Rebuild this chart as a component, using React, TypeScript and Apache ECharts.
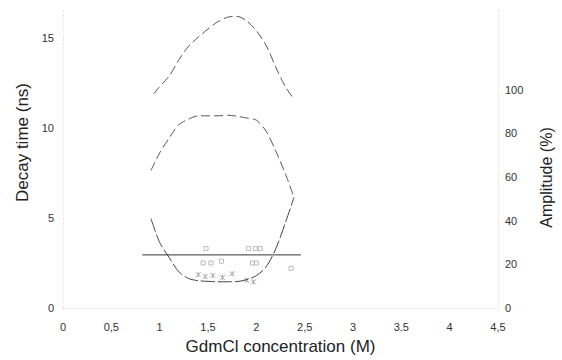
import React, { useEffect, useRef } from "react";
import * as echarts from "echarts";

// GdmCl concentration (M) sampling for each curve
const concLongTau = [0.94, 1.0, 1.1, 1.2, 1.3, 1.4, 1.5, 1.6, 1.7, 1.8, 1.9, 2.0, 2.1, 2.2, 2.3, 2.39];
const longTau = [11.9, 12.3, 12.9, 13.8, 14.55, 15.05, 15.5, 15.9, 16.15, 16.2, 15.95, 15.4, 14.6, 13.4, 12.3, 11.6];

const concAmpHigh = [0.91, 1.0, 1.1, 1.2, 1.3, 1.4, 1.5, 1.6, 1.7, 1.8, 1.9, 2.0, 2.1, 2.2, 2.3, 2.39];
const ampHigh = [63, 71, 78, 84, 86.5, 88, 88, 88, 88.3, 87.8, 87, 86, 81, 72, 61.5, 50.7];

const concAmpLow = [0.91, 1.0, 1.1, 1.2, 1.3, 1.4, 1.5, 1.6, 1.7, 1.8, 1.9, 2.0, 2.1, 2.2, 2.3, 2.39];
const ampLow = [41, 30, 23, 16.5, 13.5, 12.5, 12.2, 12, 12, 12.1, 13, 14.8, 18.8, 27, 39, 50.7];

const concShortTau = [0.82, 0.9, 1.2, 1.4, 1.6, 1.8, 2.0, 2.2, 2.46];
const shortTau = [2.95, 2.95, 2.95, 2.95, 2.95, 2.95, 2.95, 2.95, 2.95];

const concSquares = [1.48, 1.92, 1.99, 2.04, 1.45, 1.53, 1.64, 1.96, 2.0, 2.36];
const tauSquares = [3.3, 3.3, 3.3, 3.3, 2.5, 2.5, 2.6, 2.5, 2.5, 2.2];

const concCrosses = [1.4, 1.47, 1.55, 1.65, 1.75, 1.9, 1.97];
const tauCrosses = [1.85, 1.75, 1.8, 1.7, 1.9, 1.55, 1.45];

const xTickLabels = ["0", "0,5", "1", "1,5", "2", "2,5", "3", "3.5", "4", "4,5"];
const leftTicks = [0, 5, 10, 15];
const rightTicks = [0, 20, 40, 60, 80, 100];

const zip = (xs: number[], ys: number[]) => xs.map((x, i) => [x, ys[i]]);

const FONT = "Liberation Sans, Arial, Helvetica, sans-serif";

export default function App() {
  const ref = useRef<HTMLDivElement>(null);
  useEffect(() => {
    document.body.style.margin = "0";
    if (!ref.current) return;
    const chart = echarts.init(ref.current, undefined, { renderer: "svg" });
    const faintAxis = { show: true, lineStyle: { color: "#dddddd", type: [1, 3] as any, width: 1 } };
    chart.setOption({
      animation: false,
      backgroundColor: "#ffffff",
      grid: { left: 63, right: 57, top: 11, bottom: 47 },
      xAxis: {
        type: "value",
        min: 0,
        max: 4.5,
        interval: 0.5,
        name: "GdmCl concentration (M)",
        nameLocation: "middle",
        nameGap: 30,
        nameTextStyle: { fontFamily: FONT, fontSize: 17, color: "#222" },
        axisLine: faintAxis,
        axisTick: { show: false },
        splitLine: { show: false },
        axisLabel: {
          margin: 13,
          fontFamily: FONT,
          fontSize: 11,
          color: "#333",
          formatter: (v: number) => xTickLabels[Math.round(v / 0.5)] ?? "",
        },
      },
      yAxis: [
        {
          type: "value",
          min: 0,
          max: 16.5,
          interval: 5,
          position: "left",
          name: "Decay time (ns)",
          nameLocation: "middle",
          nameRotate: 90,
          nameGap: 32,
          nameTextStyle: { fontFamily: FONT, fontSize: 17, color: "#222", padding: [0, 0, 0, 34] },
          axisLine: faintAxis,
          axisTick: { show: false },
          splitLine: { show: false },
          axisLabel: {
            margin: 9,
            fontFamily: FONT,
            fontSize: 11,
            color: "#333",
            formatter: (v: number) => (leftTicks.includes(v) ? String(v) : ""),
          },
        },
        {
          type: "value",
          min: 0,
          max: 136,
          interval: 20,
          position: "right",
          name: "Amplitude (%)",
          nameLocation: "middle",
          nameRotate: 90,
          nameGap: 40,
          nameTextStyle: { fontFamily: FONT, fontSize: 16, color: "#222", padding: [0, 36, 0, 0] },
          axisLine: faintAxis,
          axisTick: { show: false },
          splitLine: { show: false },
          axisLabel: {
            margin: 7,
            fontFamily: FONT,
            fontSize: 11,
            color: "#333",
            formatter: (v: number) => (rightTicks.includes(v) ? String(v) : ""),
          },
        },
      ],
      series: [
        {
          name: "Long decay time",
          type: "line",
          yAxisIndex: 0,
          smooth: 0.3,
          showSymbol: false,
          data: zip(concLongTau, longTau),
          lineStyle: { color: "#555", width: 1, type: [9, 4] },
        },
        {
          name: "Amplitude (long)",
          type: "line",
          yAxisIndex: 1,
          smooth: 0.3,
          showSymbol: false,
          data: zip(concAmpHigh, ampHigh),
          lineStyle: { color: "#555", width: 1, type: [9, 4] },
        },
        {
          name: "Amplitude (short)",
          type: "line",
          yAxisIndex: 1,
          smooth: 0.3,
          showSymbol: false,
          data: zip(concAmpLow, ampLow),
          lineStyle: { color: "#444", width: 1, type: [14, 3] },
        },
        {
          name: "Short decay time",
          type: "line",
          yAxisIndex: 0,
          showSymbol: false,
          data: zip(concShortTau, shortTau),
          lineStyle: { color: "#333", width: 1 },
        },
        {
          name: "Squares",
          type: "scatter",
          yAxisIndex: 0,
          symbol: "rect",
          symbolSize: 4,
          data: zip(concSquares, tauSquares),
          itemStyle: { color: "transparent", borderColor: "#aaa", borderWidth: 1 },
        },
        {
          name: "Crosses",
          type: "scatter",
          yAxisIndex: 0,
          symbol: "path://M0,0L10,10M10,0L0,10M5,0L5,10",
          symbolSize: 5,
          data: zip(concCrosses, tauCrosses),
          itemStyle: { color: "transparent", borderColor: "#999", borderWidth: 1 },
        },
      ],
    });
    return () => chart.dispose();
  }, []);
  return <div ref={ref} style={{ width: 562, height: 360 }} />;
}
